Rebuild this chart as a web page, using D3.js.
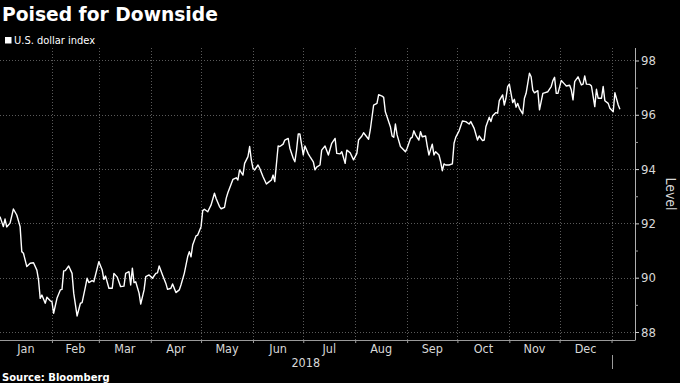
<!DOCTYPE html>
<html><head><meta charset="utf-8">
<script src="https://cdn.jsdelivr.net/npm/d3@7"></script>
<style>
html,body{margin:0;padding:0;background:#000;}
svg{display:block;}
</style></head>
<body>
<script>
const title = "Poised for Downside";
const seriesName = "U.S. dollar index";
const source = "Source: Bloomberg";
const yLabel = "Level";
const yearLabel = "2018";
const yTicks = [88, 90, 92, 94, 96, 98];
const yMinorTicks = [89, 91, 93, 95, 97];
const monthLabels = ["Jan","Feb","Mar","Apr","May","Jun","Jul","Aug","Sep","Oct","Nov","Dec"];
const dates = [
"2018-01-01","2018-01-03","2018-01-04","2018-01-05","2018-01-07","2018-01-09","2018-01-11","2018-01-13","2018-01-14","2018-01-15",
"2018-01-17","2018-01-19","2018-01-21","2018-01-23","2018-01-24","2018-01-25","2018-01-26","2018-01-28","2018-01-29","2018-01-31",
"2018-02-01","2018-02-02","2018-02-04","2018-02-06","2018-02-07","2018-02-08","2018-02-09","2018-02-11","2018-02-13","2018-02-14",
"2018-02-16","2018-02-18","2018-02-19","2018-02-21","2018-02-22","2018-02-23","2018-02-25","2018-02-26","2018-03-01","2018-03-03",
"2018-03-04","2018-03-05","2018-03-07","2018-03-09","2018-03-10","2018-03-12","2018-03-14","2018-03-16","2018-03-17","2018-03-19",
"2018-03-20","2018-03-21","2018-03-22","2018-03-23","2018-03-25","2018-03-26","2018-03-28","2018-03-29","2018-03-31","2018-04-02",
"2018-04-04","2018-04-05","2018-04-06","2018-04-08","2018-04-10","2018-04-11","2018-04-13","2018-04-14","2018-04-16","2018-04-18",
"2018-04-19","2018-04-21","2018-04-23","2018-04-24","2018-04-25","2018-04-26","2018-04-28","2018-04-29","2018-05-01","2018-05-02",
"2018-05-03","2018-05-05","2018-05-07","2018-05-09","2018-05-10","2018-05-12","2018-05-13","2018-05-15","2018-05-16","2018-05-17",
"2018-05-20","2018-05-22","2018-05-23","2018-05-24","2018-05-26","2018-05-27","2018-05-29","2018-05-30","2018-05-31","2018-06-01",
"2018-06-02","2018-06-04","2018-06-05","2018-06-07","2018-06-09","2018-06-10","2018-06-12","2018-06-13","2018-06-14","2018-06-16",
"2018-06-17","2018-06-19","2018-06-20","2018-06-22","2018-06-23","2018-06-25","2018-06-26","2018-06-27","2018-06-28","2018-06-29",
"2018-07-01","2018-07-02","2018-07-04","2018-07-05","2018-07-07","2018-07-08","2018-07-09","2018-07-11","2018-07-12","2018-07-14",
"2018-07-16","2018-07-18","2018-07-20","2018-07-21","2018-07-23","2018-07-24","2018-07-26","2018-07-27","2018-07-29","2018-07-31",
"2018-08-02","2018-08-03","2018-08-05","2018-08-06","2018-08-09","2018-08-10","2018-08-12","2018-08-14","2018-08-15","2018-08-17",
"2018-08-18","2018-08-19","2018-08-20","2018-08-22","2018-08-23","2018-08-24","2018-08-25","2018-08-26","2018-08-28","2018-08-29",
"2018-08-31","2018-09-01","2018-09-03","2018-09-04","2018-09-05","2018-09-06","2018-09-08","2018-09-09","2018-09-10","2018-09-12",
"2018-09-13","2018-09-14","2018-09-16","2018-09-17","2018-09-18","2018-09-20","2018-09-21","2018-09-22","2018-09-23","2018-09-24",
"2018-09-26","2018-09-28","2018-09-29","2018-09-30","2018-10-02","2018-10-04","2018-10-06","2018-10-08","2018-10-09","2018-10-11",
"2018-10-13","2018-10-14","2018-10-16","2018-10-17","2018-10-18","2018-10-20","2018-10-21","2018-10-22","2018-10-24","2018-10-25",
"2018-10-26","2018-10-28","2018-10-29","2018-10-30","2018-10-31","2018-11-01","2018-11-03","2018-11-04","2018-11-05","2018-11-06",
"2018-11-07","2018-11-09","2018-11-10","2018-11-11","2018-11-12","2018-11-13","2018-11-14","2018-11-15","2018-11-16","2018-11-18",
"2018-11-19","2018-11-21","2018-11-22","2018-11-24","2018-11-26","2018-11-27","2018-11-28","2018-11-29","2018-11-30","2018-12-02",
"2018-12-04","2018-12-05","2018-12-07","2018-12-08","2018-12-09","2018-12-10","2018-12-12","2018-12-14","2018-12-15","2018-12-16",
"2018-12-17","2018-12-19","2018-12-20","2018-12-22","2018-12-23","2018-12-24","2018-12-26","2018-12-27","2018-12-28","2018-12-30",
"2018-12-31","2019-01-02","2019-01-03","2019-01-05","2019-01-06"
];
const values = [
92.25,91.88,92.16,91.87,92.01,92.53,92.31,91.88,90.96,90.90,
90.41,90.53,90.55,90.28,89.92,89.24,89.36,89.06,89.28,89.15,
89.12,88.69,89.24,89.55,89.57,90.25,90.26,90.43,90.16,89.43,
88.59,89.06,89.08,89.67,89.98,89.82,89.89,89.85,90.59,90.28,
89.94,90.06,89.61,89.61,90.16,90.02,89.67,89.69,90.16,90.22,
89.73,90.35,89.82,89.85,89.43,89.03,89.55,90.04,90.10,89.98,
90.16,90.18,90.43,90.10,89.79,89.57,89.61,89.77,89.45,89.55,
89.73,90.16,90.77,90.96,90.77,91.20,91.54,91.57,91.88,92.47,
92.52,92.43,92.68,93.11,92.92,92.62,92.54,92.59,92.92,93.13,
93.62,93.68,93.60,93.97,93.78,94.21,94.46,94.83,94.34,94.03,
93.97,94.15,94.03,93.72,93.45,93.50,93.60,93.78,93.54,94.85,
94.83,94.92,95.07,95.13,94.77,94.40,94.27,94.70,95.29,95.29,
94.52,94.85,94.56,94.46,94.27,93.97,94.07,94.15,94.70,94.85,
94.52,94.95,95.13,94.58,94.56,94.64,94.21,94.70,94.60,94.34,
94.58,95.07,95.22,95.34,95.10,95.44,96.36,96.42,96.74,96.69,
96.64,96.11,95.93,95.56,95.22,95.17,95.66,95.26,94.83,94.77,
94.64,94.77,95.13,95.17,95.41,95.26,95.07,95.38,95.19,95.22,
94.85,94.52,94.92,94.52,94.64,94.52,94.27,93.94,94.19,94.15,
94.15,94.19,94.95,95.17,95.41,95.77,95.75,95.66,95.75,95.50,
95.07,95.22,95.05,95.07,95.56,95.91,95.75,95.96,96.08,96.06,
96.52,96.73,96.36,96.61,97.04,97.13,96.45,96.57,96.28,96.42,
96.24,96.03,96.61,96.79,97.16,97.53,97.40,96.91,96.81,96.89,
96.18,96.79,96.81,96.85,97.04,97.26,97.38,96.79,96.79,97.26,
97.13,97.06,97.09,96.91,96.55,97.22,97.40,97.10,97.13,97.43,
97.13,97.12,97.06,96.30,96.94,96.61,96.61,97.04,96.52,96.42,
96.24,96.11,96.81,96.36,96.20
];

const W = 680, H = 383;
const plotLeft = 0, plotRight = 635, plotTop = 48, plotBottom = 340;
const parse = d3.utcParse("%Y-%m-%d");
const data = dates.map((d, i) => ({date: parse(d), value: values[i]}));

const x = d3.scaleUtc()
  .domain([parse("2018-01-01"), parse("2019-01-15")])
  .range([plotLeft, plotRight]);
const y = d3.scaleLinear()
  .domain([87.705, 98.46])
  .range([plotBottom, plotTop]);

const svg = d3.select("body").append("svg").attr("width", W).attr("height", H)
  .style("background", "#000");
svg.append("rect").attr("width", W).attr("height", H).attr("fill", "#000");

const labelFont = "'DejaVu Sans Condensed','DejaVu Sans',sans-serif";

// Title
svg.append("text").attr("x", 2).attr("y", 21)
  .attr("fill", "#fff").attr("font-family", "'DejaVu Sans',sans-serif")
  .attr("font-weight", "bold").attr("font-size", 18.7).text(title);

// Legend
svg.append("rect").attr("x", 5).attr("y", 37).attr("width", 6.5).attr("height", 6.5).attr("fill", "#fff");
svg.append("text").attr("x", 14).attr("y", 44).attr("fill", "#fff")
  .attr("font-family", labelFont).attr("font-size", 11).text(seriesName);

// Month boundaries
const monthStarts = d3.utcMonth.range(parse("2018-01-01"), parse("2019-01-02"));
const boundaries = monthStarts.slice(1); // Feb 1 .. Jan 1 2019

// Grid
const grid = svg.append("g").attr("stroke", "#5a5a5a").attr("stroke-width", 1)
  .attr("stroke-dasharray", "1,2");
grid.selectAll("line.h").data(yTicks).join("line")
  .attr("x1", plotLeft).attr("x2", plotRight)
  .attr("y1", d => Math.round(y(d)) + 0.5).attr("y2", d => Math.round(y(d)) + 0.5);
grid.selectAll("line.v").data(boundaries).join("line")
  .attr("x1", d => Math.round(x(d)) + 0.5).attr("x2", d => Math.round(x(d)) + 0.5)
  .attr("y1", plotTop).attr("y2", plotBottom);

// Bottom axis
const xAxis = d3.axisBottom(x).tickValues(boundaries).tickSize(3).tickFormat("");
const gx = svg.append("g").attr("transform", `translate(0,${plotBottom})`).call(xAxis);
gx.select(".domain").attr("stroke", "#9a9a9a").attr("d", `M${plotLeft},0.5H${plotRight}`);
gx.selectAll(".tick line").attr("stroke", "#9a9a9a");

// Month labels centered in month
svg.append("g").selectAll("text").data(monthStarts.slice(0, 12)).join("text")
  .attr("x", (d, i) => (x(d) + x(d3.utcMonth.offset(d, 1))) / 2)
  .attr("y", 353)
  .attr("text-anchor", "middle").attr("fill", "#d8d8d8")
  .attr("font-family", labelFont).attr("font-size", 12.5)
  .text((d, i) => monthLabels[i]);

// Year label and separator
svg.append("text")
  .attr("x", (x(parse("2018-01-01")) + x(parse("2019-01-01"))) / 2)
  .attr("y", 367).attr("text-anchor", "middle").attr("fill", "#d8d8d8")
  .attr("font-family", labelFont).attr("font-size", 12.5).text(yearLabel);
svg.append("line")
  .attr("x1", Math.round(x(parse("2019-01-01"))) + 0.5).attr("x2", Math.round(x(parse("2019-01-01"))) + 0.5)
  .attr("y1", 355).attr("y2", 369).attr("stroke", "#9a9a9a");

// Right axis
const yAxis = d3.axisRight(y).tickValues(yTicks).tickSize(4).tickPadding(2).tickFormat(d3.format("d"));
const gy = svg.append("g").attr("transform", `translate(${plotRight},0)`).call(yAxis);
gy.select(".domain").attr("stroke", "#b0b0b0").attr("d", `M0.5,${plotTop}V${plotBottom + 0.5}`);
gy.selectAll(".tick line").attr("stroke", "#d0d0d0");
gy.selectAll(".tick text").attr("fill", "#d8d8d8")
  .attr("font-family", labelFont).attr("font-size", 13);
const yMinor = d3.axisRight(y).tickValues(yMinorTicks).tickSize(3).tickFormat("");
const gym = svg.append("g").attr("transform", `translate(${plotRight},0)`).call(yMinor);
gym.select(".domain").remove();
gym.selectAll(".tick line").attr("stroke", "#9a9a9a");

// Y label
svg.append("text")
  .attr("transform", `translate(665.5,${(plotTop + plotBottom) / 2}) rotate(90)`)
  .attr("text-anchor", "middle").attr("fill", "#d8d8d8")
  .attr("font-family", labelFont).attr("font-size", 14).text(yLabel);

// Line
const line = d3.line().x(d => x(d.date)).y(d => y(d.value)).curve(d3.curveLinear);
svg.append("path").datum(data).attr("d", line)
  .attr("fill", "none").attr("stroke", "#fff").attr("stroke-width", 1.4)
  .attr("stroke-linejoin", "round");

// Source
svg.append("text").attr("x", 2).attr("y", 381).attr("fill", "#fff")
  .attr("font-family", "'DejaVu Sans',sans-serif").attr("font-weight", "bold")
  .attr("font-size", 10).text(source);
</script>
</body></html>
